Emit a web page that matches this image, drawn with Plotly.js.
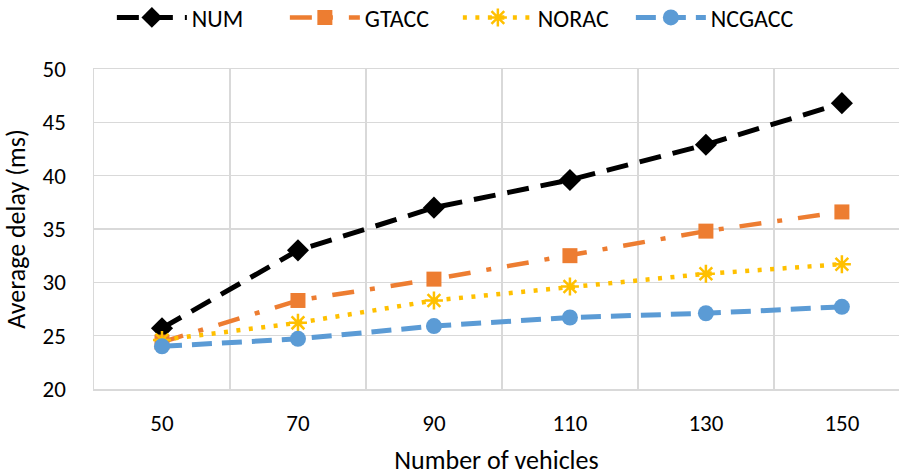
<!DOCTYPE html>
<html>
<head>
<meta charset="utf-8">
<script src="https://cdn.plot.ly/plotly-3.0.1.min.js"></script>
<style>html,body{margin:0;padding:0;background:#fff;}#chart{width:899px;height:476px;}</style>
</head>
<body>
<div id="chart"></div>
<script>
var categories = ["50", "70", "90", "110", "130", "150"];
var seriesNames = ["NUM", "GTACC", "NORAC", "NCGACC"];
var numValues = [25.7, 33.0, 37.0, 39.6, 42.9, 46.8];
var gtaccValues = [24.4, 28.3, 30.3, 32.5, 34.8, 36.6];
var noracValues = [24.6, 26.2, 28.3, 29.6, 30.8, 31.7];
var ncgaccValues = [24.0, 24.7, 25.9, 26.7, 27.1, 27.7];
var yTicks = [20, 25, 30, 35, 40, 45, 50];

var FONT = "Carlito, Calibri, Lato, 'Liberation Sans', sans-serif";

var traces = [
  {x: categories, y: numValues, name: seriesNames[0], type: "scatter", mode: "lines+markers",
   line: {color: "#000000", width: 5, dash: "22px,12px"},
   marker: {symbol: "diamond", size: 17, color: "#000000"}},
  {x: categories, y: gtaccValues, name: seriesNames[1], type: "scatter", mode: "lines+markers",
   line: {color: "#ED7D31", width: 4.5, dash: "22px,16px,5px,16px"},
   marker: {symbol: "square", size: 15, color: "#ED7D31"}},
  {x: categories, y: noracValues, name: seriesNames[2], type: "scatter", mode: "lines+markers",
   line: {color: "#FFC000", width: 4.5, dash: "4px,8.5px"},
   marker: {symbol: "asterisk-open", size: 15, color: "#FFC000", line: {color: "#FFC000", width: 2.5}}},
  {x: categories, y: ncgaccValues, name: seriesNames[3], type: "scatter", mode: "lines+markers",
   line: {color: "#5B9BD5", width: 5, dash: "20px,10px"},
   marker: {symbol: "circle", size: 16, color: "#5B9BD5"}}
];

var layout = {
  width: 899, height: 476,
  margin: {l: 94, r: 0, t: 69, b: 87, autoexpand: false},
  paper_bgcolor: "#ffffff", plot_bgcolor: "#ffffff",
  font: {family: FONT, size: 22, color: "#000000"},
  showlegend: true,
  legend: {orientation: "h", x: 0.452, xanchor: "center", y: 1.16, yanchor: "middle",
           font: {family: FONT, size: 24, color: "#000000"}, itemwidth: 70, traceorder: "normal",
           entrywidth: 88, entrywidthmode: "pixels"},
  xaxis: {type: "category", range: [-0.5, 5.42], tickson: "boundaries",
          showgrid: true, gridcolor: "#D9D9D9", gridwidth: 1.5,
          showline: true, linecolor: "#D9D9D9", linewidth: 1.5, mirror: true,
          ticks: "", ticklabelstandoff: 13, automargin: false,
          tickfont: {family: FONT, size: 23, color: "#000000"},
          title: {text: "Number of vehicles", font: {family: FONT, size: 26, color: "#000000"}, standoff: 15},
          zeroline: false, fixedrange: true},
  yaxis: {range: [20, 50], tickvals: yTicks, ticktext: yTicks.map(String),
          showgrid: true, gridcolor: "#D9D9D9", gridwidth: 1.5,
          showline: true, linecolor: "#D9D9D9", linewidth: 1.5, mirror: false,
          ticks: "", ticklabelstandoff: 22, automargin: false,
          tickfont: {family: FONT, size: 23, color: "#000000"},
          title: {text: "Average delay (ms)", font: {family: FONT, size: 26, color: "#000000"}, standoff: 12},
          zeroline: false, fixedrange: true}
};

Plotly.newPlot("chart", traces, layout, {staticPlot: true, displayModeBar: false});
</script>
</body>
</html>
